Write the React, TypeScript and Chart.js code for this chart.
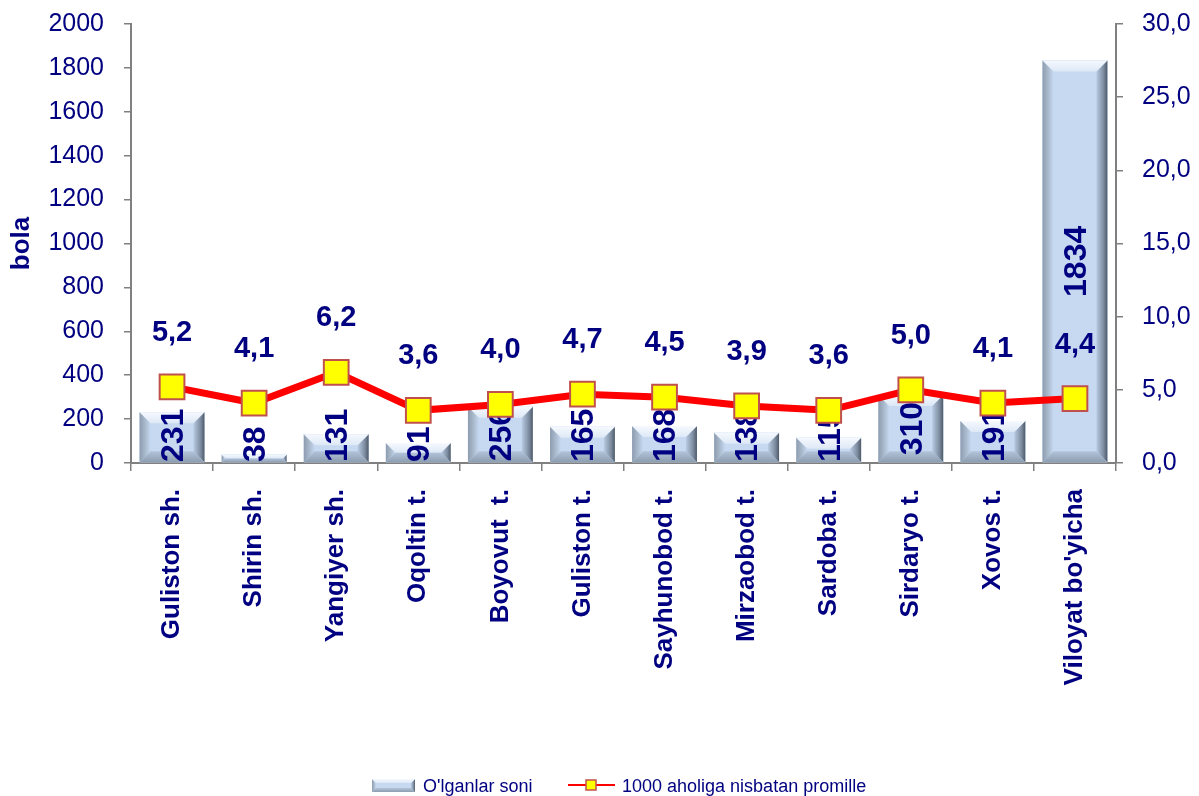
import { useEffect, useRef } from 'react';
import { Chart, registerables } from 'chart.js';

Chart.register(...registerables);

const categories = [
  'Guliston sh.',
  'Shirin sh.',
  'Yangiyer sh.',
  'Oqoltin t.',
  'Boyovut  t.',
  'Guliston t.',
  'Sayhunobod t.',
  'Mirzaobod t.',
  'Sardoba t.',
  'Sirdaryo t.',
  'Xovos t.',
  "Viloyat bo'yicha",
];
const deaths = [231, 38, 131, 91, 256, 165, 168, 138, 115, 310, 191, 1834];
const permille = [5.2, 4.1, 6.2, 3.6, 4.0, 4.7, 4.5, 3.9, 3.6, 5.0, 4.1, 4.4];
const leftAxisMax = 2000;
const leftAxisStep = 200;
const rightAxisMax = 30;
const rightAxisStep = 5;
const barLegend = "O'lganlar soni";
const lineLegend = '1000 aholiga nisbatan promille';
const leftTitle = 'bola';

const FONT = "'Liberation Sans', Arial, sans-serif";
const NAVY = '#000080';
const fmt = (v: number) => v.toFixed(1).replace('.', ',');

function drawBevelBar(ctx: CanvasRenderingContext2D, left: number, right: number, top: number, bottom: number, bevel: number) {
  const w = right - left;
  const h = bottom - top;
  if (w <= 0 || h <= 0) return;
  const b = Math.min(bevel, h / 2, w / 2);
  ctx.fillStyle = '#c6d9f1';
  ctx.fillRect(left, top, w, h);
  let g = ctx.createLinearGradient(left, 0, left + b, 0);
  g.addColorStop(0, '#8d9cae');
  g.addColorStop(0.5, '#a9b9cc');
  g.addColorStop(1, '#c6d9f1');
  ctx.fillStyle = g;
  ctx.beginPath();
  ctx.moveTo(left, top);
  ctx.lineTo(left + b, top + b);
  ctx.lineTo(left + b, bottom - b);
  ctx.lineTo(left, bottom);
  ctx.closePath();
  ctx.fill();
  g = ctx.createLinearGradient(right, 0, right - b, 0);
  g.addColorStop(0, '#4e5a68');
  g.addColorStop(0.35, '#7d8ca0');
  g.addColorStop(1, '#b8cbe2');
  ctx.fillStyle = g;
  ctx.beginPath();
  ctx.moveTo(right, top);
  ctx.lineTo(right - b, top + b);
  ctx.lineTo(right - b, bottom - b);
  ctx.lineTo(right, bottom);
  ctx.closePath();
  ctx.fill();
  g = ctx.createLinearGradient(0, top, 0, top + b);
  g.addColorStop(0, '#f6f9fe');
  g.addColorStop(1, '#dde8f6');
  ctx.fillStyle = g;
  ctx.beginPath();
  ctx.moveTo(left, top);
  ctx.lineTo(right, top);
  ctx.lineTo(right - b, top + b);
  ctx.lineTo(left + b, top + b);
  ctx.closePath();
  ctx.fill();
  g = ctx.createLinearGradient(0, bottom, 0, bottom - b);
  g.addColorStop(0, '#8e9db0');
  g.addColorStop(1, '#b2c4da');
  ctx.fillStyle = g;
  ctx.beginPath();
  ctx.moveTo(left, bottom);
  ctx.lineTo(right, bottom);
  ctx.lineTo(right - b, bottom - b);
  ctx.lineTo(left + b, bottom - b);
  ctx.closePath();
  ctx.fill();
}

const barDecor = {
  id: 'barDecor',
  afterDatasetDraw(chart: any, args: any) {
    const ctx = chart.ctx as CanvasRenderingContext2D;
    if (args.index === 0) {
      const meta = chart.getDatasetMeta(0);
      const baseY = chart.scales.y.getPixelForValue(0);
      ctx.save();
      meta.data.forEach((el: any) => {
        const left = el.x - el.width / 2;
        const right = el.x + el.width / 2;
        drawBevelBar(ctx, left, right, el.y, el.base, 11);
      });
      ctx.font = `bold 32px ${FONT}`;
      ctx.fillStyle = NAVY;
      ctx.textAlign = 'center';
      ctx.textBaseline = 'middle';
      meta.data.forEach((el: any, i: number) => {
        const text = String(deaths[i]);
        const len = ctx.measureText(text).width;
        const mid = (el.y + el.base) / 2;
        const cy = Math.min(mid, baseY - len / 2 - 1);
        ctx.save();
        ctx.translate(el.x, cy);
        ctx.rotate(-Math.PI / 2);
        ctx.fillText(text, 0, 2);
        ctx.restore();
      });
      ctx.restore();
    }
  },
  afterDatasetsDraw(chart: any) {
    const ctx = chart.ctx as CanvasRenderingContext2D;
    const meta = chart.getDatasetMeta(1);
    ctx.save();
    ctx.font = `bold 29px ${FONT}`;
    ctx.fillStyle = NAVY;
    ctx.textAlign = 'center';
    ctx.textBaseline = 'middle';
    meta.data.forEach((el: any, i: number) => {
      ctx.fillText(fmt(permille[i]), el.x, el.y - 54);
    });
    ctx.restore();
  },
  afterDraw(chart: any) {
    const ctx = chart.ctx as CanvasRenderingContext2D;
    ctx.save();
    const ly = 787;
    drawBevelBar(ctx, 372, 415, 779, 792, 4);
    ctx.font = `18px ${FONT}`;
    ctx.fillStyle = NAVY;
    ctx.textAlign = 'left';
    ctx.textBaseline = 'middle';
    ctx.fillText(barLegend, 423, ly);
    ctx.strokeStyle = '#ff0000';
    ctx.lineWidth = 2;
    ctx.beginPath();
    ctx.moveTo(568, ly - 2);
    ctx.lineTo(615, ly - 2);
    ctx.stroke();
    ctx.fillStyle = '#ffff00';
    ctx.fillRect(586, ly - 7, 10, 10);
    ctx.strokeStyle = '#c0504d';
    ctx.lineWidth = 1.5;
    ctx.strokeRect(586, ly - 7, 10, 10);
    ctx.fillStyle = NAVY;
    ctx.fillText(lineLegend, 622, ly);
    ctx.restore();
  },
};

const zeroPad = (s: any) => {
  s.paddingTop = 0;
  s.paddingBottom = 0;
  s.paddingLeft = 0;
  s.paddingRight = 0;
};

export default function App() {
  const ref = useRef<HTMLCanvasElement | null>(null);
  useEffect(() => {
    if (!ref.current) return;
    const chart = new Chart(ref.current, {
      type: 'bar',
      data: {
        labels: categories,
        datasets: [
          {
            type: 'bar',
            label: barLegend,
            data: deaths,
            backgroundColor: '#c6d9f1',
            borderWidth: 0,
            yAxisID: 'y',
            order: 2,
            barPercentage: 0.79,
            categoryPercentage: 1,
          },
          {
            type: 'line',
            label: lineLegend,
            data: permille,
            borderColor: '#ff0000',
            borderWidth: 7,
            pointStyle: 'rect',
            pointRadius: 17.5,
            pointBackgroundColor: '#ffff00',
            pointBorderColor: '#c0504d',
            pointBorderWidth: 2,
            tension: 0,
            yAxisID: 'y1',
            order: 1,
          } as any,
        ],
      },
      options: {
        animation: false,
        responsive: true,
        maintainAspectRatio: false,
        layout: { padding: { top: 24, left: 0, right: 0, bottom: 0 } },
        plugins: { legend: { display: false }, tooltip: { enabled: false } },
        scales: {
          x: {
            type: 'category',
            offset: true,
            grid: { offset: true, drawOnChartArea: false, drawTicks: true, tickLength: 8, color: '#808080', lineWidth: 1.5 },
            border: { color: '#808080', width: 2 },
            ticks: {
              minRotation: 90,
              maxRotation: 90,
              autoSkip: false,
              padding: 18,
              color: NAVY,
              font: { family: FONT, size: 26, weight: 'bold' },
            },
            afterFit: (s: any) => {
              s.height = 333;
              zeroPad(s);
            },
          },
          y: {
            position: 'left',
            min: 0,
            max: leftAxisMax,
            grid: { drawOnChartArea: false, drawTicks: true, tickLength: 7, color: '#808080', lineWidth: 1.5 },
            border: { color: '#808080', width: 2 },
            ticks: {
              stepSize: leftAxisStep,
              padding: 20,
              color: NAVY,
              font: { family: FONT, size: 25 },
              callback: (v: any) => String(v),
            },
            title: {
              display: true,
              text: leftTitle,
              color: NAVY,
              font: { family: FONT, size: 26, weight: 'bold' },
              padding: { top: 6, bottom: 0 },
            },
            afterFit: (s: any) => {
              s.width = 131;
              zeroPad(s);
            },
          },
          y1: {
            position: 'right',
            min: 0,
            max: rightAxisMax,
            grid: { drawOnChartArea: false, drawTicks: true, tickLength: 7, color: '#808080', lineWidth: 1.5 },
            border: { color: '#808080', width: 2 },
            ticks: {
              stepSize: rightAxisStep,
              padding: 19,
              color: NAVY,
              font: { family: FONT, size: 25 },
              callback: (v: any) => fmt(Number(v)),
            },
            afterFit: (s: any) => {
              s.width = 83;
              zeroPad(s);
            },
          },
        },
      },
      plugins: [barDecor],
    });
    return () => chart.destroy();
  }, []);
  return (
    <div style={{ position: 'absolute', left: 0, top: 0, width: 1199, height: 796, background: '#fff' }}>
      <canvas ref={ref} />
    </div>
  );
}
